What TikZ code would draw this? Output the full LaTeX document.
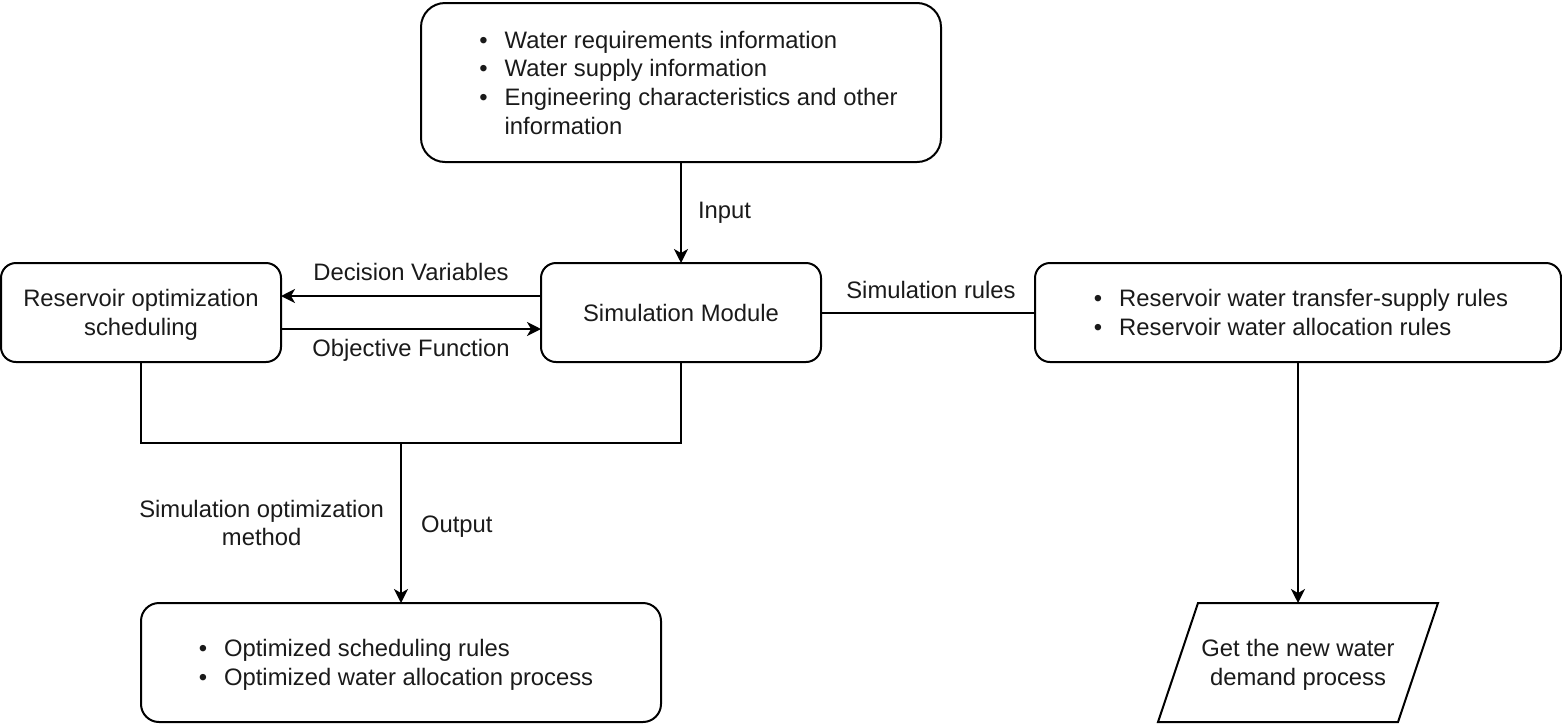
\documentclass[tikz,border=0pt]{standalone}
\usepackage{fontspec}
\setmainfont{Liberation Sans}
\usepackage{tikz}
\usetikzlibrary{
  arrows.meta,
  positioning,
  shapes.geometric
}
\definecolor{inkblack}{RGB}{26,26,26}
\tikzset{
  box/.style={draw=black,line width=1pt,fill=white,rounded corners=7.5pt,
    align=center,inner sep=4pt,outer sep=0pt,
    font=\fontsize{11.9}{14.3}\selectfont,
    text=inkblack,minimum width=140pt,minimum height=49.5pt},
  listbox/.style={box,align=left},
  iobox/.style={align=center,inner sep=4pt,outer sep=0pt,
    font=\fontsize{11.9}{14.3}\selectfont,text=inkblack,
    minimum width=120pt,minimum height=59.5pt},
  flow/.style={-{Stealth[length=7pt,width=7pt,inset=2pt]},line width=1pt},
  link/.style={line width=1pt},
  lab/.style={font=\fontsize{11.9}{14.3}\selectfont,text=inkblack,
    align=center,inner sep=0pt}
}
\newcommand{\bl}{\textbullet}
\newcommand{\toprow}{\rule{0pt}{13pt}}
\newcommand{\topline}{\rule{0pt}{11pt}}

\begin{document}
\begin{tikzpicture}[x=0.5pt,y=-0.5pt]
  \useasboundingbox[fill=white] (0,0) rectangle (1562,724);

  \node[listbox,minimum width=260pt,minimum height=79.5pt,rounded corners=12pt]
    (info) at (681,82.5) {\begin{tabular}{@{\hspace{7.5pt}}l@{\hspace{8.5pt}}l@{}}
      \toprow\bl & Water requirements information\\
      \bl & Water supply information\\
      \bl & Engineering characteristics and other\\
          & information
    \end{tabular}};
  \node[box,below=50.5pt of info] (sim) {Simulation Module};
  \node[box,left=130pt of sim] (res) {\topline Reservoir optimization\\scheduling};
  \node[listbox,right=107pt of sim,minimum width=263pt] (rules)
    {\begin{tabular}{@{\hspace{3pt}}l@{\hspace{8.5pt}}l@{}}
      \toprow\bl & Reservoir water transfer-supply rules\\
      \bl & Reservoir water allocation rules
    \end{tabular}};
  \node[listbox,minimum width=260pt,minimum height=59.5pt,rounded corners=9pt]
    (opt) at (401,662.5) {\begin{tabular}{@{}l@{\hspace{8.5pt}}l@{\hspace{5pt}}}
      \toprow\bl & Optimized scheduling rules\\
      \bl & Optimized water allocation process
    \end{tabular}};
  \node[iobox] (gwd) at (1298,662.5) {\topline Get the new water\\demand process};
  \draw[link,line join=miter] ([xshift=-10pt]gwd.south west) -- ([xshift=10pt]gwd.north west)
    -- ([xshift=10pt]gwd.north east) -- ([xshift=-10pt]gwd.south east) -- cycle;
  \coordinate (join) at (401,443);

  \draw[flow] (info) -- node[lab,right=8pt]{Input} (sim);
  \draw[flow] ([yshift=8.25pt]sim.west) --
    node[lab,yshift=12pt]{Decision Variables} ([yshift=8.25pt]res.east);
  \draw[flow] ([yshift=-8.25pt]res.east) --
    node[lab,yshift=-10.5pt]{Objective Function} ([yshift=-8.25pt]sim.west);
  \draw[link] (sim) -- node[lab,yshift=11.5pt,xshift=1.5pt]{Simulation rules} (rules);
  \draw[link] (res.south) |- (join) -| (sim.south);
  \draw[flow] (join) -- node[lab,right=9.5pt,yshift=-2pt]{Output}
    node[lab,left=8pt]{Simulation optimization\\method} (opt);
  \draw[flow] (rules.south) -- (gwd.north);
\end{tikzpicture}
\end{document}
